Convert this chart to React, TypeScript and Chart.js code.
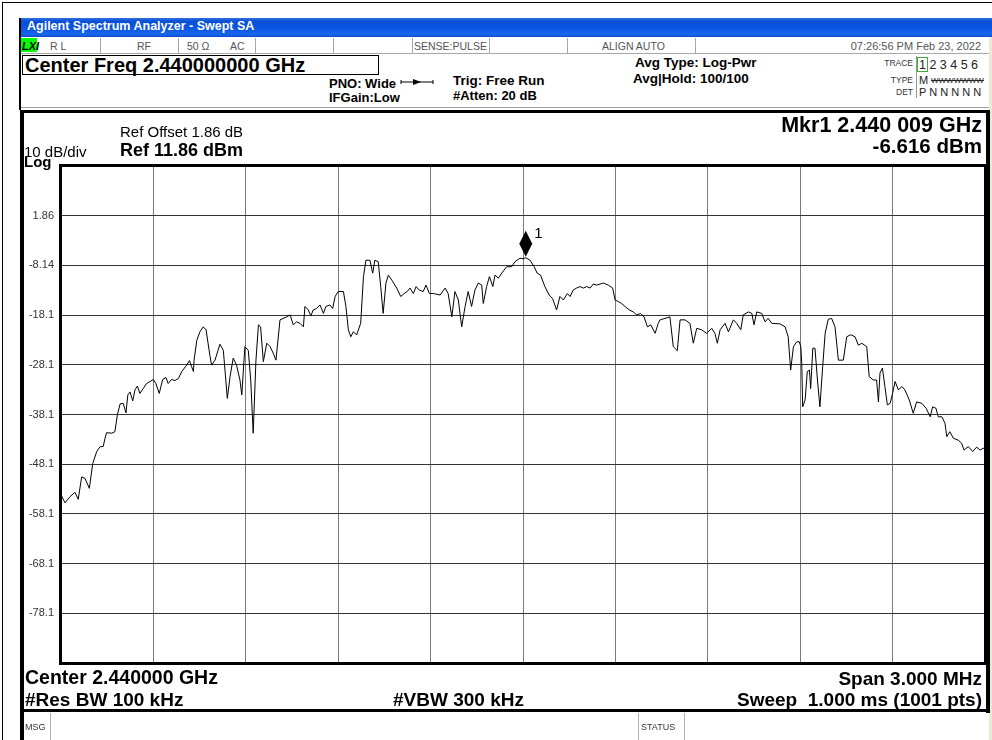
import React, { useEffect, useRef } from "react";
import { Chart, registerables } from "chart.js";
Chart.register(...registerables);

// Trace 1: frequency offset from 2.440000 GHz (kHz) and level (dBm)
const freqKHz = [
  -1500, -1487, -1471, -1455, -1444, -1433, -1422, -1408, -1397, -1384,
  -1373, -1363, -1357, -1352, -1335, -1325, -1317, -1308, -1298, -1289,
  -1283, -1276, -1267, -1260, -1252, -1244, -1233, -1222, -1200, -1192,
  -1181, -1170, -1159, -1152, -1141, -1130, -1119, -1108, -1092, -1083,
  -1076, -1070, -1068, -1059, -1049, -1038, -1029, -1016, -1011, -1000,
  -984, -973, -960, -951, -941, -930, -919, -913, -903, -892,
  -884, -876, -867, -859, -852, -843, -832, -821, -811, -802,
  -789, -767, -756, -746, -735, -724, -713, -708, -697, -689,
  -681, -670, -659, -648, -640, -627, -618, -610, -600, -583,
  -575, -567, -559, -551, -540, -527, -518, -510, -497, -488,
  -481, -470, -462, -454, -445, -437, -426, -410, -397, -386,
  -376, -367, -356, -347, -337, -324, -315, -304, -291, -269,
  -253, -243, -231, -221, -210, -199, -188, -178, -167, -156,
  -145, -134, -129, -118, -109, -98, -91, -80, -69, -53,
  -37, -26, -10, 0, 9, 23, 36, 46, 57, 71,
  85, 96, 109, 120, 131, 144, 153, 163, 174, 185,
  196, 207, 218, 228, 239, 261, 277, 291, 299, 309,
  320, 331, 345, 358, 369, 382, 393, 404, 415, 429,
  439, 445, 461, 477, 488, 501, 510, 526, 542, 553,
  564, 580, 596, 613, 623, 631, 640, 656, 667, 683,
  694, 707, 715, 732, 743, 750, 759, 775, 786, 796,
  808, 834, 851, 861, 869, 878, 889, 897, 902, 905,
  908, 916, 923, 930, 934, 941, 948, 956, 964, 973,
  981, 991, 1002, 1013, 1024, 1040, 1051, 1064, 1078, 1089,
  1100, 1116, 1124, 1137, 1148, 1154, 1159, 1167, 1175, 1183,
  1192, 1200, 1208, 1219, 1230, 1240, 1254, 1267, 1278, 1295,
  1309, 1322, 1330, 1341, 1348, 1360, 1370, 1376, 1386, 1397,
  1413, 1424, 1432, 1446, 1460, 1473, 1484, 1495, 1500,
];
const levelDbm = [
  -54.3, -55.9, -54.7, -53.8, -55.2, -50.7, -51.0, -53.0, -48.0, -45.6,
  -44.6, -44.6, -42.9, -41.8, -41.9, -41.6, -38.2, -36.0, -35.9, -37.8,
  -34.2, -33.6, -35.4, -33.2, -32.4, -33.9, -32.9, -31.9, -31.1, -31.9,
  -33.9, -31.1, -30.7, -31.9, -31.1, -31.3, -30.9, -29.5, -28.2, -27.3,
  -28.5, -29.5, -27.2, -23.2, -21.5, -20.5, -21.1, -26.5, -28.2, -27.2,
  -24.0, -25.2, -34.9, -30.5, -26.8, -28.2, -31.2, -34.2, -24.5, -25.2,
  -31.2, -41.9, -27.2, -20.1, -20.5, -27.5, -23.8, -24.5, -25.8, -27.2,
  -19.1, -18.5, -18.1, -20.1, -19.5, -19.8, -20.5, -16.4, -17.1, -18.3,
  -17.1, -16.8, -16.1, -17.8, -16.4, -16.1, -16.8, -14.4, -13.4, -13.4,
  -16.4, -21.1, -22.5, -21.5, -22.1, -19.8, -10.4, -7.1, -7.1, -9.7,
  -7.1, -7.4, -12.4, -17.8, -11.7, -10.1, -11.1, -12.7, -14.4, -13.8,
  -13.4, -12.7, -13.8, -12.4, -13.1, -13.4, -12.1, -13.8, -13.8, -14.1,
  -12.7, -13.8, -18.5, -13.4, -15.1, -20.5, -16.4, -13.4, -16.4, -13.1,
  -11.7, -12.1, -15.8, -12.4, -10.4, -12.4, -10.1, -10.7, -9.7, -8.4,
  -8.4, -7.4, -6.7, -6.8, -6.6, -7.1, -8.4, -9.7, -10.1, -12.4,
  -14.1, -14.8, -17.1, -14.4, -15.1, -13.8, -14.4, -13.1, -12.7, -12.4,
  -12.7, -12.4, -12.7, -11.9, -12.1, -11.7, -12.1, -12.7, -15.1, -15.4,
  -15.8, -16.4, -17.1, -17.5, -18.1, -17.8, -18.5, -20.5, -20.1, -21.8,
  -19.8, -19.1, -18.8, -18.5, -24.5, -25.3, -19.1, -19.1, -19.8, -23.8,
  -20.8, -21.1, -21.8, -20.8, -21.8, -23.8, -21.1, -19.8, -21.5, -19.1,
  -19.8, -21.1, -18.1, -17.5, -17.8, -20.1, -17.5, -17.8, -19.5, -18.8,
  -19.8, -19.9, -20.5, -22.5, -29.2, -24.5, -23.5, -23.5, -24.5, -27.8,
  -36.6, -35.2, -29.5, -29.2, -32.9, -24.8, -24.8, -31.2, -36.6, -28.5,
  -21.8, -19.0, -18.8, -20.5, -27.2, -27.2, -22.5, -22.1, -22.5, -24.2,
  -23.8, -24.5, -30.5, -31.2, -31.2, -35.6, -29.8, -28.8, -32.5, -36.2,
  -35.9, -33.9, -31.5, -33.2, -32.5, -33.2, -35.2, -37.9, -35.6, -35.9,
  -36.9, -38.6, -36.6, -36.9, -38.6, -38.6, -39.9, -42.6, -41.6, -42.9,
  -43.3, -43.9, -45.3, -44.6, -45.6, -44.7, -45.3, -44.9, -45.3,
];

const xTickValues = [-1500, -1200, -900, -600, -300, 0, 300, 600, 900, 1200, 1500];
const yTickValues = [11.86, 1.86, -8.14, -18.14, -28.14, -38.14, -48.14, -58.14, -68.14, -78.14, -88.14];
const yTickLabels = ["", "1.86", "-8.14", "-18.1", "-28.1", "-38.1", "-48.1", "-58.1", "-68.1", "-78.1", ""];

const markerFreqKHz = [9];
const markerLevelDbm = [-6.616];
const markerNames = ["1"];

const statusSeparators = [100, 178, 255, 333, 412, 489, 567, 695];

const FONT = '"Liberation Sans", Arial, Helvetica, sans-serif';

function T(props: any) {
  const { x, y, s, b, a = "left", c = "#000", children, st } = props;
  const style: any = {
    position: "absolute",
    top: y - 0.8465 * s,
    fontSize: s,
    lineHeight: `${s}px`,
    fontWeight: b ? "bold" : "normal",
    color: c,
    whiteSpace: "pre",
    fontFamily: FONT,
    ...st,
  };
  if (a === "left") style.left = x;
  else if (a === "right") style.right = 992 - x;
  else {
    style.left = x;
    style.transform = "translateX(-50%)";
  }
  return <div style={style}>{children}</div>;
}

function Box(props: any) {
  const { x, y, w, h, bg, st } = props;
  return <div style={{ position: "absolute", left: x, top: y, width: w, height: h, background: bg, ...st }} />;
}

const overlayPlugin = {
  id: "overlay",
  afterDatasetsDraw(chart: any) {
    const { ctx, chartArea: a, scales } = chart;
    ctx.save();
    // marker
    markerFreqKHz.forEach((f, i) => {
      const mx = scales.x.getPixelForValue(f);
      const my = scales.y.getPixelForValue(markerLevelDbm[i]);
      ctx.fillStyle = "#000";
      ctx.beginPath();
      ctx.moveTo(mx, my - 1);
      ctx.lineTo(mx + 6.5, my - 14);
      ctx.lineTo(mx, my - 27);
      ctx.lineTo(mx - 6.5, my - 14);
      ctx.closePath();
      ctx.fill();
      ctx.font = "15px " + FONT;
      ctx.textBaseline = "alphabetic";
      ctx.fillText(markerNames[i], mx + 8.5, my - 20);
    });
    // plot frame
    ctx.strokeStyle = "#000";
    ctx.lineWidth = 3;
    ctx.strokeRect(a.left - 0.5, a.top - 0.5, a.right - a.left + 1, a.bottom - a.top + 1);
    ctx.restore();
  },
};

export default function App() {
  const ref = useRef<HTMLCanvasElement>(null);
  useEffect(() => {
    const canvas = ref.current!;
    const chart = new Chart(canvas, {
      type: "line",
      data: {
        datasets: [
          {
            data: freqKHz.map((f, i) => ({ x: f, y: levelDbm[i] })),
            borderColor: "#000",
            borderWidth: 1,
            pointRadius: 0,
            tension: 0,
            fill: false,
          },
        ],
      },
      options: {
        animation: false,
        responsive: false,
        devicePixelRatio: 1,
        events: [],
        layout: { padding: { top: 166, right: 7, left: 0, bottom: 0 } },
        plugins: { legend: { display: false }, tooltip: { enabled: false }, title: { display: false } },
        scales: {
          x: {
            type: "linear",
            min: -1500,
            max: 1500,
            afterBuildTicks: (s: any) => {
              s.ticks = xTickValues.map((v) => ({ value: v }));
            },
            afterFit: (s: any) => {
              s.height = 77;
            },
            ticks: { display: false },
            grid: { color: "#7a7a7a", lineWidth: 1, drawTicks: false },
            border: { display: false },
          },
          y: {
            type: "linear",
            min: -88.14,
            max: 11.86,
            afterBuildTicks: (s: any) => {
              s.ticks = yTickValues.map((v) => ({ value: v }));
            },
            afterFit: (s: any) => {
              s.width = 61;
            },
            ticks: {
              autoSkip: false,
              padding: 7,
              color: "#333",
              font: { family: FONT, size: 11 },
              callback: (v: any) => {
                const i = yTickValues.findIndex((t) => Math.abs(t - Number(v)) < 1e-6);
                return i >= 0 ? yTickLabels[i] : "";
              },
            },
            grid: { color: "#333", lineWidth: 1, drawTicks: false },
            border: { display: false },
          },
        },
      } as any,
      plugins: [overlayPlugin],
    });
    return () => chart.destroy();
  }, []);

  return (
    <div
      style={{
        position: "absolute",
        left: 0,
        top: 0,
        width: 992,
        height: 740,
        background: "#fff",
        overflow: "hidden",
        fontFamily: FONT,
      }}
    >
      {/* outer frame */}
      <Box x={2} y={2} w={990} h={1} bg="#000" />
      <Box x={2} y={2} w={1} h={738} bg="#000" />
      <Box x={989} y={37} w={3} h={703} bg="#ECE9D8" />
      {/* title bar */}
      <Box
        x={20}
        y={18}
        w={972}
        h={19}
        bg="linear-gradient(to bottom, #2f6fe0 0%, #0a4fd6 18%, #0b56e2 55%, #1a66ee 85%, #0c4cc8 100%)"
      />
      <T x={27} y={31} s={12.5} b c="#fff">Agilent Spectrum Analyzer - Swept SA</T>
      <Box x={19} y={18} w={2} h={92} bg="#000" />

      {/* status row */}
      <Box x={21} y={53} w={968} h={1} bg="#a8a8a8" />
      {statusSeparators.map((sx) => (
        <Box key={sx} x={sx} y={38} w={1} h={15} bg="#a8a8a8" />
      ))}
      <Box x={21} y={38} w={16} h={14} bg="#00ff00" />
      <T x={22} y={50} s={11} b st={{ fontStyle: "italic" }}>LXI</T>
      <T x={50} y={50} s={10.5} c="#555">R L</T>
      <T x={137} y={50} s={10.5} c="#555">RF</T>
      <T x={187} y={50} s={10.5} c="#555">50 Ω</T>
      <T x={230} y={50} s={10.5} c="#555">AC</T>
      <T x={414} y={50} s={10.5} c="#555">SENSE:PULSE</T>
      <T x={602} y={50} s={10.5} c="#555">ALIGN AUTO</T>
      <T x={981} y={50} s={11} a="right" c="#555">07:26:56 PM Feb 23, 2022</T>

      {/* center freq box */}
      <Box x={22} y={55} w={355} h={18} st={{ border: "1px solid #000" }} />
      <T x={25} y={72} s={20} b>Center Freq 2.440000000 GHz</T>
      <T x={329} y={88} s={13} b>PNO: Wide</T>
      <T x={329} y={102} s={13} b>IFGain:Low</T>
      <svg style={{ position: "absolute", left: 400, top: 76 }} width={34} height={12}>
        <line x1={1} y1={6} x2={33} y2={6} stroke="#000" strokeWidth={1} />
        <line x1={1} y1={4} x2={1} y2={8} stroke="#000" strokeWidth={1} />
        <line x1={33} y1={4} x2={33} y2={8} stroke="#000" strokeWidth={1} />
        <polygon points="13,3 21,6 13,9" fill="#000" />
      </svg>
      <T x={453} y={85} s={13.5} b>Trig: Free Run</T>
      <T x={453} y={100} s={13} b>#Atten: 20 dB</T>
      <T x={635} y={67} s={13.5} b>Avg Type: Log-Pwr</T>
      <T x={633} y={83} s={13.5} b>Avg|Hold: 100/100</T>

      {/* trace table */}
      <T x={913} y={66} s={8.5} a="right" c="#333">TRACE</T>
      <T x={913} y={83} s={8.5} a="right" c="#333">TYPE</T>
      <T x={913} y={95} s={8.5} a="right" c="#333">DET</T>
      <Box x={916} y={56} w={1} h={42} bg="#999" />
      <Box x={917} y={57} w={11} h={15} st={{ border: "1px solid #3fae3f", boxSizing: "border-box" }} />
      <T x={919} y={70} s={12.5} c="#222">1 2 3 4 5 6</T>
      <T x={919} y={84} s={11} c="#222">M</T>
      <T x={931} y={84} s={8} c="#222" st={{ textDecoration: "line-through" }}>WWWWWWW</T>
      <T x={919} y={96} s={11} c="#222">P N N N N N</T>
      <Box x={21} y={107} w={968} h={1} bg="#a0a0a0" />

      <canvas
        ref={ref}
        width={992}
        height={740}
        style={{ position: "absolute", left: 0, top: 0, width: 992, height: 740 }}
      />

      {/* graph panel border */}
      <Box x={20} y={110} w={970} h={3} bg="#000" />
      <Box x={20} y={110} w={4} h={630} bg="#000" />
      <Box x={986} y={110} w={4} h={603} bg="#000" />
      <Box x={20} y={709} w={970} h={3} bg="#000" />

      <T x={120} y={137} s={15}>Ref Offset 1.86 dB</T>
      <T x={120} y={156} s={18} b>Ref 11.86 dBm</T>
      <T x={24} y={157} s={15}>10 dB/div</T>
      <T x={24} y={167} s={15} b>Log</T>
      <T x={982} y={133} s={21.5} a="right" b>Mkr1 2.440 009 GHz</T>
      <T x={982} y={153} s={20.5} a="right" b>-6.616 dBm</T>

      <T x={25} y={685} s={19.5} b>Center 2.440000 GHz</T>
      <T x={25} y={706} s={19} b>#Res BW 100 kHz</T>
      <T x={393} y={706} s={19} b>#VBW 300 kHz</T>
      <T x={982} y={685} s={19} a="right" b>Span 3.000 MHz</T>
      <T x={982} y={706} s={19} a="right" b>Sweep  1.000 ms (1001 pts)</T>

      {/* message row */}
      <Box x={50} y={713} w={1} h={27} bg="#b0b0b0" />
      <T x={25} y={731} s={9} c="#333">MSG</T>
      <Box x={638} y={713} w={1} h={27} bg="#b0b0b0" />
      <Box x={684} y={713} w={1} h={27} bg="#b0b0b0" />
      <T x={641} y={731} s={9} c="#333">STATUS</T>
    </div>
  );
}
